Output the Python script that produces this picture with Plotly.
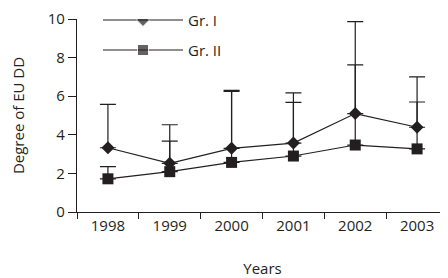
import plotly.graph_objects as go

years = ["1998", "1999", "2000", "2001", "2002", "2003"]
gr1_mean = [3.33, 2.52, 3.3, 3.57, 5.1, 4.39]
gr1_top = [5.58, 4.52, 6.3, 6.17, 9.86, 7.0]
gr2_mean = [1.72, 2.09, 2.57, 2.9, 3.47, 3.27]
gr2_top = [2.35, 3.67, 6.25, 5.68, 7.62, 5.7]

C = "#231f20"
FONT = dict(family="Open Sans, Noto Sans, sans-serif", size=15, color=C)

def up(top, mean):
    return [t - m for t, m in zip(top, mean)]

fig = go.Figure()
fig.add_trace(go.Scatter(
    x=years, y=gr2_mean, mode="lines+markers", name="Gr. II",
    line=dict(color=C, width=1.2),
    marker=dict(symbol="square", size=11, color=C),
    error_y=dict(type="data", symmetric=False, array=up(gr2_top, gr2_mean),
                 arrayminus=[0] * 6, color=C, thickness=1.2, width=8),
    showlegend=False))
fig.add_trace(go.Scatter(
    x=years, y=gr1_mean, mode="lines+markers", name="Gr. I",
    line=dict(color=C, width=1.2),
    marker=dict(symbol="diamond", size=10, color=C),
    error_y=dict(type="data", symmetric=False, array=up(gr1_top, gr1_mean),
                 arrayminus=[0] * 6, color=C, thickness=1.2, width=8),
    showlegend=False))

# custom legend on a hidden pixel-space overlay axis
leg_names = ["Gr. I", "Gr. II"]
leg_symbols = ["diamond", "square"]
leg_sizes = [10, 11]
leg_y = [17, 47.5]
for n, s, sz, yy in zip(leg_names, leg_symbols, leg_sizes, leg_y):
    fig.add_trace(go.Scatter(
        x=[103, 143, 183], y=[yy, yy, yy], mode="lines+markers",
        xaxis="x2", yaxis="y2", showlegend=False, hoverinfo="skip",
        line=dict(color=C, width=1.2),
        marker=dict(symbol=s, size=[0, sz, 0], color=C)))
    fig.add_annotation(x=186, y=yy, xref="x2", yref="y2", text=n,
                       showarrow=False, xanchor="left", yanchor="middle",
                       font=FONT)

# page body has an 8px margin, so the figure is 8px smaller and offset
fig.update_layout(
    width=440, height=270,
    margin=dict(l=69, r=0, t=8, b=66),
    paper_bgcolor="white", plot_bgcolor="white",
    font=FONT,
    xaxis=dict(type="category", range=[-0.5, 5.5], showgrid=False,
               showline=True, linecolor=C, linewidth=1.3,
               ticks="outside", ticklen=6, tickcolor=C, tickwidth=1.3,
               tickson="boundaries", zeroline=False,
               ticklabeloverflow="allow",
               title=dict(text="Years", standoff=30, font=FONT)),
    yaxis=dict(range=[0, 10], dtick=2, showgrid=False, zeroline=False,
               showline=True, linecolor=C, linewidth=1.3,
               ticks="outside", ticklen=8, tickcolor=C, tickwidth=1.3,
               ticklabeloverflow="allow",
               title=dict(text="Degree of EU DD", standoff=29, font=FONT)),
    xaxis2=dict(range=[77, 448], overlaying="x", visible=False, fixedrange=True),
    yaxis2=dict(range=[212, 16], overlaying="y", visible=False, fixedrange=True),
)

fig.write_html("out.html")
